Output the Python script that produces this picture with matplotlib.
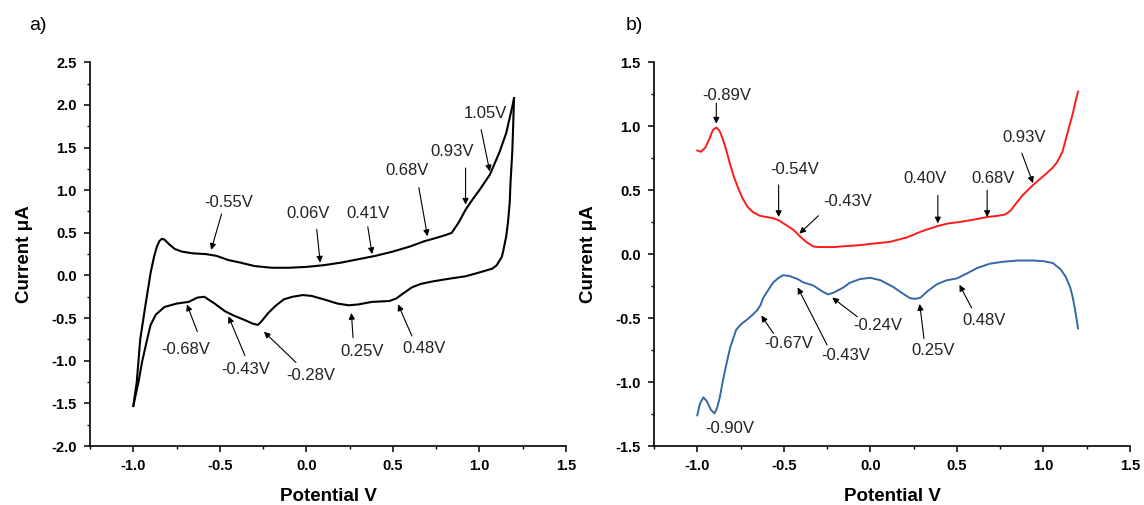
import matplotlib
matplotlib.use("Agg")
import matplotlib.pyplot as plt
from matplotlib.ticker import MultipleLocator, FormatStrFormatter

plt.rcParams["font.family"] = ["Liberation Sans", "DejaVu Sans"]
plt.rcParams["axes.unicode_minus"] = False

# ---- a) cyclic voltammogram: forward (anodic) and reverse (cathodic) sweeps ----
cv_fwd_v = [-1.00, -0.98, -0.96, -0.93, -0.90, -0.88, -0.865, -0.85, -0.835, -0.82,
            -0.79, -0.76, -0.72, -0.66, -0.58, -0.52, -0.45, -0.38, -0.30, -0.20,
            -0.10, 0.00, 0.10, 0.20, 0.30, 0.40, 0.50, 0.60, 0.68, 0.75,
            0.80, 0.84, 0.88, 0.92, 0.96, 1.00, 1.06, 1.115, 1.155, 1.19, 1.20]
cv_fwd_i = [-1.53, -1.25, -0.75, -0.35, 0.03, 0.22, 0.33, 0.40, 0.43, 0.42,
            0.36, 0.31, 0.28, 0.26, 0.25, 0.23, 0.18, 0.15, 0.11, 0.09,
            0.09, 0.10, 0.12, 0.15, 0.19, 0.23, 0.28, 0.34, 0.40, 0.44,
            0.47, 0.50, 0.62, 0.77, 0.89, 1.00, 1.18, 1.44, 1.67, 1.98, 2.08]
cv_rev_v = [1.20, 1.195, 1.19, 1.18, 1.175, 1.165, 1.155, 1.14, 1.13, 1.10,
            1.075, 1.00, 0.92, 0.82, 0.73, 0.66, 0.61, 0.56, 0.52, 0.48,
            0.38, 0.30, 0.245, 0.18, 0.10, 0.03, -0.02, -0.08, -0.13, -0.18,
            -0.22, -0.26, -0.28, -0.31, -0.36, -0.42, -0.47, -0.53, -0.59, -0.63,
            -0.68, -0.75, -0.82, -0.87, -0.90, -0.92, -0.95, -0.97, -1.00]
cv_rev_i = [2.08, 1.75, 1.45, 1.10, 0.85, 0.62, 0.46, 0.31, 0.22, 0.12,
            0.08, 0.035, -0.01, -0.04, -0.07, -0.10, -0.14, -0.21, -0.27, -0.30,
            -0.31, -0.34, -0.35, -0.33, -0.28, -0.24, -0.23, -0.25, -0.28, -0.36,
            -0.44, -0.54, -0.58, -0.565, -0.52, -0.47, -0.42, -0.33, -0.25, -0.26,
            -0.31, -0.33, -0.37, -0.46, -0.58, -0.75, -1.02, -1.25, -1.53]

# peak labels for a): text, text position, arrow tail, arrow head
a_labels = ["-0.55V", "0.06V", "0.41V", "0.68V", "0.93V", "1.05V",
            "-0.68V", "-0.43V", "-0.28V", "0.25V", "0.48V"]
a_text_xy = [(-0.45, 0.86), (0.01, 0.73), (0.355, 0.73), (0.58, 1.23), (0.84, 1.45),
             (1.035, 1.90), (-0.70, -0.87), (-0.35, -1.10), (0.025, -1.17),
             (0.325, -0.89), (0.68, -0.86)]
a_tail_xy = [(-0.49, 0.72), (0.06, 0.54), (0.355, 0.57), (0.65, 1.03), (0.92, 1.26),
             (1.01, 1.71), (-0.63, -0.66), (-0.355, -0.94), (-0.06, -1.02),
             (0.27, -0.73), (0.61, -0.71)]
a_head_xy = [(-0.55, 0.30), (0.08, 0.15), (0.38, 0.25), (0.70, 0.46), (0.92, 0.83),
             (1.06, 1.22), (-0.69, -0.34), (-0.45, -0.48), (-0.245, -0.66),
             (0.26, -0.44), (0.53, -0.34)]

# ---- b) differential sweeps: oxidation (red) and reduction (blue) ----
ox_v = [-1.00, -0.98, -0.955, -0.93, -0.91, -0.89, -0.87, -0.85, -0.83, -0.81,
        -0.79, -0.765, -0.74, -0.71, -0.68, -0.64, -0.60, -0.56, -0.53, -0.49,
        -0.445, -0.40, -0.365, -0.33, -0.30, -0.21, -0.12, -0.06, 0.00, 0.11,
        0.21, 0.30, 0.39, 0.45, 0.51, 0.60, 0.675, 0.74, 0.78, 0.81,
        0.85, 0.88, 0.94, 1.00, 1.05, 1.08, 1.11, 1.13, 1.15, 1.17, 1.185, 1.20]
ox_i = [0.81, 0.80, 0.83, 0.90, 0.97, 0.99, 0.96, 0.89, 0.80, 0.70,
        0.61, 0.52, 0.44, 0.37, 0.33, 0.30, 0.29, 0.28, 0.265, 0.23,
        0.19, 0.13, 0.09, 0.06, 0.055, 0.055, 0.065, 0.07, 0.08, 0.095,
        0.13, 0.18, 0.22, 0.24, 0.25, 0.27, 0.29, 0.30, 0.31, 0.34,
        0.41, 0.46, 0.54, 0.61, 0.67, 0.72, 0.80, 0.90, 1.00, 1.10, 1.19, 1.27]
red_v = [-1.00, -0.985, -0.965, -0.945, -0.92, -0.90, -0.885, -0.87, -0.855, -0.84,
         -0.825, -0.81, -0.79, -0.775, -0.745, -0.715, -0.685, -0.655, -0.635, -0.62,
         -0.59, -0.56, -0.53, -0.505, -0.47, -0.42, -0.39, -0.33, -0.28, -0.245,
         -0.21, -0.155, -0.12, -0.06, 0.00, 0.06, 0.13, 0.19, 0.23, 0.26,
         0.29, 0.33, 0.385, 0.44, 0.50, 0.56, 0.615, 0.69, 0.765, 0.85,
         0.94, 1.00, 1.055, 1.10, 1.13, 1.155, 1.17, 1.185, 1.20]
red_i = [-1.26, -1.17, -1.12, -1.15, -1.22, -1.245, -1.20, -1.12, -1.01, -0.91,
         -0.82, -0.73, -0.65, -0.59, -0.545, -0.515, -0.48, -0.44, -0.40, -0.345,
         -0.28, -0.22, -0.185, -0.165, -0.17, -0.195, -0.22, -0.245, -0.29, -0.315,
         -0.30, -0.26, -0.225, -0.195, -0.185, -0.205, -0.255, -0.31, -0.345, -0.35,
         -0.34, -0.29, -0.235, -0.205, -0.19, -0.15, -0.11, -0.075, -0.06, -0.05,
         -0.05, -0.055, -0.07, -0.12, -0.18, -0.26, -0.34, -0.45, -0.58]

b_labels = ["-0.89V", "-0.54V", "-0.43V", "0.40V", "0.68V", "0.93V",
            "-0.67V", "-0.43V", "-0.24V", "0.25V", "0.48V"]
b_text_xy = [(-0.83, 1.24), (-0.44, 0.66), (-0.13, 0.41), (0.315, 0.59), (0.71, 0.59),
             (0.89, 0.91), (-0.47, -0.70), (-0.14, -0.79), (0.045, -0.56),
             (0.36, -0.75), (0.655, -0.52)]
b_tail_xy = [(-0.89, 1.18), (-0.53, 0.54), (-0.30, 0.30), (0.39, 0.46), (0.675, 0.50),
             (0.875, 0.79), (-0.56, -0.62), (-0.25, -0.71), (-0.075, -0.49),
             (0.31, -0.66), (0.585, -0.42)]
b_head_xy = [(-0.89, 1.02), (-0.53, 0.29), (-0.41, 0.16), (0.39, 0.24), (0.675, 0.29),
             (0.94, 0.555), (-0.63, -0.48), (-0.42, -0.26), (-0.22, -0.34),
             (0.285, -0.39), (0.515, -0.24)]
b_extra_label = "-0.90V"
b_extra_xy = (-0.81, -1.36)


def style_axes(ax, ylo, yhi):
    ax.set_xlim(-1.25, 1.5)
    ax.set_ylim(ylo, yhi)
    for side in ("top", "right"):
        ax.spines[side].set_visible(False)
    for side in ("left", "bottom"):
        ax.spines[side].set_linewidth(1.2)
    ax.xaxis.set_major_locator(MultipleLocator(0.5))
    ax.xaxis.set_minor_locator(MultipleLocator(0.25))
    ax.yaxis.set_major_locator(MultipleLocator(0.5))
    ax.yaxis.set_minor_locator(MultipleLocator(0.25))
    ax.xaxis.set_major_formatter(FormatStrFormatter("%.1f"))
    ax.yaxis.set_major_formatter(FormatStrFormatter("%.1f"))
    ax.tick_params(which="major", direction="out", length=4.5, width=1.1,
                   labelsize=10.5, pad=5)
    ax.tick_params(which="minor", direction="out", length=2.5, width=1.0)
    for lab in ax.get_xticklabels() + ax.get_yticklabels():
        lab.set_fontweight("bold")
    ax.set_xlabel("Potential V", fontsize=13.5, fontweight="bold", labelpad=11)
    ax.set_ylabel("Current \u03bcA", fontsize=13.5, fontweight="bold", labelpad=13)


def add_labels(ax, labels, text_xy, tail_xy, head_xy):
    for lab, txy, t0, h in zip(labels, text_xy, tail_xy, head_xy):
        ax.text(txy[0], txy[1], lab, ha="center", va="center", fontsize=12,
                color="#222222")
        ax.annotate("", xy=h, xytext=t0,
                    arrowprops=dict(arrowstyle="-|>", lw=0.8, color="black",
                                    mutation_scale=9, shrinkA=0, shrinkB=0))


fig = plt.figure(figsize=(11.44, 5.05), dpi=100)
ax_a = fig.add_axes([0.0787, 0.1168, 0.416, 0.760])
ax_b = fig.add_axes([0.5717, 0.1168, 0.416, 0.760])

ax_a.plot(cv_fwd_v, cv_fwd_i, color="black", lw=1.5)
ax_a.plot(cv_rev_v, cv_rev_i, color="black", lw=1.5)
style_axes(ax_a, -2.0, 2.5)
add_labels(ax_a, a_labels, a_text_xy, a_tail_xy, a_head_xy)

ax_b.plot(ox_v, ox_i, color="#ff1a1a", lw=1.4)
ax_b.plot(red_v, red_i, color="#3468a6", lw=1.4)
style_axes(ax_b, -1.5, 1.5)
add_labels(ax_b, b_labels, b_text_xy, b_tail_xy, b_head_xy)
ax_b.text(b_extra_xy[0], b_extra_xy[1], b_extra_label, ha="center", va="center",
          fontsize=12, color="#222222")

fig.text(38 / 1144, 1 - 25 / 505, "a)", fontsize=14, ha="center", va="center")
fig.text(634 / 1144, 1 - 25 / 505, "b)", fontsize=14, ha="center", va="center")

fig.savefig("out.png", dpi=100)
